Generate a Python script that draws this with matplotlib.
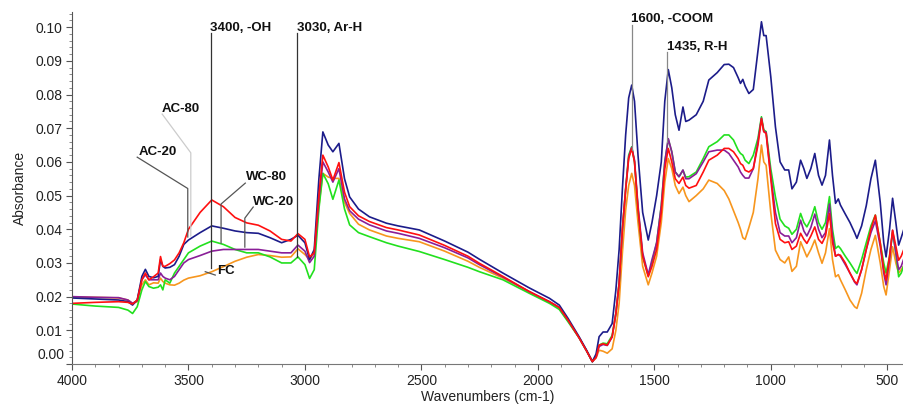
import matplotlib
matplotlib.use("Agg")
import matplotlib.pyplot as plt
from matplotlib.ticker import MultipleLocator, FixedLocator, FixedFormatter
from matplotlib.transforms import blended_transform_factory
import numpy as np

plt.rcParams['font.family'] = ['Liberation Sans', 'DejaVu Sans']

wavenumbers = [4000, 3900, 3800, 3760, 3740, 3720, 3700, 3685, 3670, 3650, 3630, 3620, 3610, 3600,
               3580, 3560, 3540, 3520, 3500, 3450, 3400, 3350, 3300, 3250, 3200, 3150, 3100, 3060,
               3030, 3000, 2980, 2960, 2940, 2923, 2900, 2880, 2854, 2830, 2808, 2770, 2723, 2650,
               2600, 2509, 2400, 2300, 2251, 2150, 2037, 1950, 1908, 1870, 1823, 1790, 1766, 1750,
               1737, 1720, 1702, 1681, 1665, 1651, 1637, 1623, 1610, 1597, 1585, 1570, 1550, 1526,
               1510, 1490, 1470, 1455, 1440, 1425, 1410, 1394, 1377, 1365, 1351, 1320, 1290, 1266,
               1230, 1200, 1180, 1160, 1140, 1130, 1120, 1110, 1094, 1075, 1055, 1040, 1030, 1020,
               1000, 980, 960, 940, 923, 909, 890, 872, 858, 845, 828, 811, 795, 780, 765, 748, 735,
               722, 710, 701, 680, 660, 640, 630, 610, 590, 570, 551, 530, 515, 505, 490, 477, 463,
               451, 440, 430]

navy = [0.0196, 0.0193, 0.0190, 0.0185, 0.0175, 0.0190, 0.0260, 0.0281, 0.0260, 0.0256, 0.0260, 0.0310, 0.0290, 0.0285,
        0.0287, 0.0295, 0.0320, 0.0355, 0.0368, 0.0390, 0.0410, 0.0403, 0.0395, 0.0390, 0.0388, 0.0375, 0.0360, 0.0370,
        0.0382, 0.0360, 0.0310, 0.0340, 0.0550, 0.0689, 0.0650, 0.0630, 0.0655, 0.0550, 0.0496, 0.0460, 0.0437, 0.0418,
        0.0410, 0.0398, 0.0365, 0.0332, 0.0311, 0.0270, 0.0226, 0.0195, 0.0175, 0.0135, 0.0081, 0.0040, 0.0007, 0.0030,
        0.0081, 0.0095, 0.0095, 0.0120, 0.0220, 0.0340, 0.0520, 0.0680, 0.0790, 0.0828, 0.0780, 0.0620, 0.0450, 0.0368,
        0.0420, 0.0500, 0.0600, 0.0780, 0.0874, 0.0820, 0.0740, 0.0694, 0.0763, 0.0720, 0.0724, 0.0740, 0.0780, 0.0843,
        0.0865, 0.0889, 0.0890, 0.0880, 0.0850, 0.0833, 0.0845, 0.0825, 0.0803, 0.0815, 0.0930, 0.1016, 0.0975, 0.0975,
        0.0853, 0.0704, 0.0600, 0.0576, 0.0576, 0.0520, 0.0540, 0.0605, 0.0580, 0.0551, 0.0580, 0.0625, 0.0560, 0.0531, 0.0560, 0.0665, 0.0560,
        0.0477, 0.0490, 0.0472, 0.0445, 0.0420, 0.0390, 0.0373, 0.0410, 0.0470, 0.0550, 0.0605, 0.0480, 0.0360, 0.0318, 0.0400, 0.0492, 0.0420,
        0.0353, 0.0375, 0.0397]

red = [0.0180, 0.0183, 0.0185, 0.0183, 0.0178, 0.0190, 0.0250, 0.0270, 0.0250, 0.0259, 0.0270, 0.0319, 0.0290, 0.0290,
       0.0298, 0.0309, 0.0330, 0.0360, 0.0400, 0.0450, 0.0487, 0.0467, 0.0435, 0.0419, 0.0412, 0.0395, 0.0370, 0.0365,
       0.0387, 0.0370, 0.0318, 0.0330, 0.0500, 0.0620, 0.0585, 0.0546, 0.0598, 0.0510, 0.0467, 0.0440, 0.0423, 0.0405,
       0.0398, 0.0383, 0.0352, 0.0320, 0.0299, 0.0260, 0.0215, 0.0185, 0.0168, 0.0130, 0.0078, 0.0038, 0.0007, 0.0020,
       0.0056, 0.0060, 0.0056, 0.0081, 0.0150, 0.0240, 0.0400, 0.0516, 0.0610, 0.0640, 0.0600, 0.0460, 0.0320, 0.0259,
       0.0290, 0.0340, 0.0450, 0.0580, 0.0640, 0.0600, 0.0550, 0.0536, 0.0555, 0.0530, 0.0522, 0.0530, 0.0570, 0.0605,
       0.0620, 0.0640, 0.0640, 0.0630, 0.0610, 0.0595, 0.0590, 0.0575, 0.0570, 0.0580, 0.0650, 0.0728, 0.0690, 0.0684,
       0.0550, 0.0417, 0.0370, 0.0360, 0.0363, 0.0340, 0.0350, 0.0388, 0.0370, 0.0358, 0.0380, 0.0407, 0.0370, 0.0358, 0.0380, 0.0447, 0.0360,
       0.0320, 0.0325, 0.0323, 0.0300, 0.0270, 0.0245, 0.0239, 0.0280, 0.0340, 0.0400, 0.0442, 0.0360, 0.0280, 0.0249, 0.0320, 0.0397, 0.0350,
       0.0308, 0.0320, 0.0338]

green = [0.0178, 0.0172, 0.0168, 0.0160, 0.0150, 0.0170, 0.0220, 0.0245, 0.0230, 0.0225, 0.0228, 0.0235, 0.0220, 0.0250,
         0.0240, 0.0270, 0.0290, 0.0310, 0.0330, 0.0350, 0.0365, 0.0355, 0.0340, 0.0330, 0.0330, 0.0318, 0.0300, 0.0300,
         0.0318, 0.0295, 0.0254, 0.0280, 0.0460, 0.0566, 0.0535, 0.0489, 0.0546, 0.0460, 0.0413, 0.0390, 0.0378, 0.0360,
         0.0350, 0.0334, 0.0310, 0.0287, 0.0274, 0.0250, 0.0210, 0.0180, 0.0162, 0.0125, 0.0078, 0.0038, 0.0007, 0.0025,
         0.0056, 0.0062, 0.0060, 0.0085, 0.0150, 0.0240, 0.0400, 0.0520, 0.0620, 0.0645, 0.0600, 0.0460, 0.0320, 0.0262,
         0.0300, 0.0360, 0.0470, 0.0600, 0.0667, 0.0630, 0.0570, 0.0556, 0.0575, 0.0555, 0.0556, 0.0570, 0.0610, 0.0645,
         0.0660, 0.0680, 0.0680, 0.0665, 0.0635, 0.0625, 0.0620, 0.0605, 0.0595, 0.0620, 0.0670, 0.0734, 0.0695, 0.0690,
         0.0580, 0.0496, 0.0430, 0.0410, 0.0403, 0.0385, 0.0400, 0.0447, 0.0420, 0.0407, 0.0430, 0.0467, 0.0420, 0.0400, 0.0420, 0.0497, 0.0400,
         0.0343, 0.0350, 0.0343, 0.0320, 0.0300, 0.0278, 0.0269, 0.0310, 0.0360, 0.0410, 0.0442, 0.0360, 0.0300, 0.0270, 0.0320, 0.0390, 0.0330,
         0.0259, 0.0270, 0.0290]

purple = [0.0200, 0.0198, 0.0197, 0.0190, 0.0180, 0.0188, 0.0250, 0.0265, 0.0250, 0.0250, 0.0250, 0.0270, 0.0260, 0.0255,
          0.0250, 0.0260, 0.0280, 0.0300, 0.0310, 0.0322, 0.0335, 0.0340, 0.0340, 0.0340, 0.0340, 0.0335, 0.0330, 0.0330,
          0.0353, 0.0335, 0.0301, 0.0320, 0.0490, 0.0600, 0.0570, 0.0540, 0.0580, 0.0490, 0.0455, 0.0430, 0.0413, 0.0395,
          0.0388, 0.0373, 0.0345, 0.0315, 0.0295, 0.0258, 0.0215, 0.0185, 0.0168, 0.0130, 0.0078, 0.0038, 0.0007, 0.0020,
          0.0052, 0.0058, 0.0055, 0.0080, 0.0150, 0.0240, 0.0400, 0.0520, 0.0615, 0.0643, 0.0605, 0.0470, 0.0330, 0.0265,
          0.0310, 0.0360, 0.0470, 0.0600, 0.0669, 0.0630, 0.0570, 0.0556, 0.0576, 0.0550, 0.0550, 0.0565, 0.0600, 0.0630,
          0.0635, 0.0635, 0.0625, 0.0605, 0.0585, 0.0570, 0.0560, 0.0552, 0.0552, 0.0580, 0.0660, 0.0730, 0.0690, 0.0688,
          0.0560, 0.0450, 0.0390, 0.0380, 0.0380, 0.0360, 0.0375, 0.0427, 0.0395, 0.0380, 0.0405, 0.0445, 0.0400, 0.0375, 0.0390, 0.0475, 0.0380,
          0.0320, 0.0325, 0.0320, 0.0295, 0.0270, 0.0243, 0.0235, 0.0280, 0.0340, 0.0390, 0.0425, 0.0350, 0.0270, 0.0235, 0.0310, 0.0397, 0.0330,
          0.0280, 0.0290, 0.0310]

orange = [0.0199, 0.0198, 0.0196, 0.0190, 0.0180, 0.0185, 0.0235, 0.0250, 0.0235, 0.0241, 0.0240, 0.0255, 0.0245, 0.0240,
          0.0235, 0.0234, 0.0240, 0.0249, 0.0255, 0.0262, 0.0274, 0.0289, 0.0305, 0.0317, 0.0325, 0.0322, 0.0317, 0.0318,
          0.0342, 0.0325, 0.0310, 0.0330, 0.0470, 0.0566, 0.0555, 0.0551, 0.0551, 0.0480, 0.0447, 0.0415, 0.0398, 0.0380,
          0.0373, 0.0363, 0.0335, 0.0305, 0.0287, 0.0255, 0.0215, 0.0183, 0.0165, 0.0128, 0.0078, 0.0038, 0.0007, 0.0018,
          0.0041, 0.0038, 0.0032, 0.0045, 0.0100, 0.0180, 0.0330, 0.0457, 0.0530, 0.0566, 0.0530, 0.0420, 0.0290, 0.0235,
          0.0270, 0.0320, 0.0420, 0.0540, 0.0610, 0.0580, 0.0530, 0.0506, 0.0525, 0.0500, 0.0482, 0.0500, 0.0520, 0.0546,
          0.0536, 0.0515, 0.0490, 0.0455, 0.0420, 0.0400, 0.0375, 0.0370, 0.0405, 0.0450, 0.0550, 0.0650, 0.0600, 0.0590,
          0.0450, 0.0338, 0.0310, 0.0300, 0.0318, 0.0275, 0.0290, 0.0363, 0.0340, 0.0318, 0.0340, 0.0368, 0.0330, 0.0299, 0.0330, 0.0402, 0.0310,
          0.0259, 0.0265, 0.0250, 0.0220, 0.0190, 0.0170, 0.0165, 0.0210, 0.0280, 0.0340, 0.0382, 0.0300, 0.0230, 0.0205, 0.0280, 0.0348, 0.0300,
          0.0270, 0.0280, 0.0290]

series = [("orange", orange, "#f7961e"), ("green", green, "#22e01e"), ("purple", purple, "#8a1e98"),
          ("navy", navy, "#1c1c8a"), ("red", red, "#ff1010")]

y_ticks = [0.00, 0.01, 0.02, 0.03, 0.04, 0.05, 0.06, 0.07, 0.08, 0.09, 0.10]
y_tick_labels = ["0.00", "0.01", "0.02", "0.03", "0.04", "0.05", "0.06", "0.07", "0.08", "0.09", "0.10"]

fig = plt.figure(figsize=(9.04, 4.05), dpi=100)
ax = fig.add_axes([72/904, 41/405, 832/904, 352/405])

for name, vals, col in series:
    ax.plot(wavenumbers, vals, color=col, lw=1.2, solid_joinstyle='round')

ax.set_xlim(4000, 428)
ax.set_ylim(0, 0.1045)
ax.xaxis.set_major_locator(MultipleLocator(500))
ax.xaxis.set_minor_locator(MultipleLocator(100))
ax.yaxis.set_major_locator(FixedLocator(y_ticks))
# the bottom label is drawn separately, lifted above the axis line as in the original
ax.yaxis.set_major_formatter(FixedFormatter([""] + y_tick_labels[1:]))
ax.yaxis.set_minor_locator(MultipleLocator(0.002))
ax.tick_params(axis='both', which='major', direction='out', length=4, width=0.8,
               color='#555555', labelsize=10, labelcolor='#222222', pad=3)
ax.tick_params(axis='both', which='minor', direction='out', length=2, width=0.6, color='#777777')
for s in ['top', 'right']:
    ax.spines[s].set_visible(False)
ax.spines['left'].set_color('#555555')
ax.spines['bottom'].set_color('#777777')
ax.spines['left'].set_linewidth(0.8)
ax.spines['bottom'].set_linewidth(0.8)

trans = blended_transform_factory(ax.transAxes, ax.transData)
ax.text(-0.0085, y_ticks[0] + 0.0027, y_tick_labels[0], transform=trans, ha='right', va='center',
        fontsize=10, color='#222222')

ax.set_xlabel('Wavenumbers (cm-1)', fontsize=10, color='#222222', labelpad=2)
ax.set_ylabel('Absorbance', fontsize=10, color='#222222', labelpad=6)

# peak annotations
peak_notes = [("3400, -OH", 3405, 0.0983, 0.0285, 0.0998, '#333333'),
              ("3030, Ar-H", 3033, 0.0983, 0.0318, 0.0998, '#333333'),
              ("1600, -COOM", 1597, 0.1006, 0.0635, 0.1023, '#888888'),
              ("1435, R-H", 1444, 0.0926, 0.0660, 0.0942, '#888888')]
for txt, wx, ytop, ybot, ytxt, col in peak_notes:
    ax.plot([wx, wx], [ytop, ybot], color=col, lw=0.9, clip_on=False)
    ax.text(wx + 3, ytxt, txt, fontsize=9.5, fontweight='bold', ha='left', va='center',
            color='#111111', clip_on=False)

# sample label leaders (polyline in data coordinates)
sample_notes = [("AC-80", (3613, 0.0757), [(3613, 0.0742), (3490, 0.0627), (3490, 0.0380)], '#cccccc'),
                ("AC-20", (3715, 0.0629), [(3720, 0.0614), (3503, 0.0521), (3503, 0.0377)], '#555555'),
                ("WC-80", (3252, 0.0554), [(3256, 0.0537), (3360, 0.0475), (3360, 0.0359)], '#555555'),
                ("WC-20", (3222, 0.0482), [(3222, 0.0466), (3258, 0.0433), (3258, 0.0347)], '#555555'),
                ("FC", (3378, 0.0276), [(3428, 0.0274), (3385, 0.0264)], '#555555')]
for txt, (tx, ty), pts, col in sample_notes:
    xs = [p[0] for p in pts]
    ys = [p[1] for p in pts]
    ax.plot(xs, ys, color=col, lw=0.9)
    ax.text(tx, ty, txt, fontsize=9.5, fontweight='bold', ha='left', va='center', color='#111111')

fig.savefig('out.png', dpi=100)
